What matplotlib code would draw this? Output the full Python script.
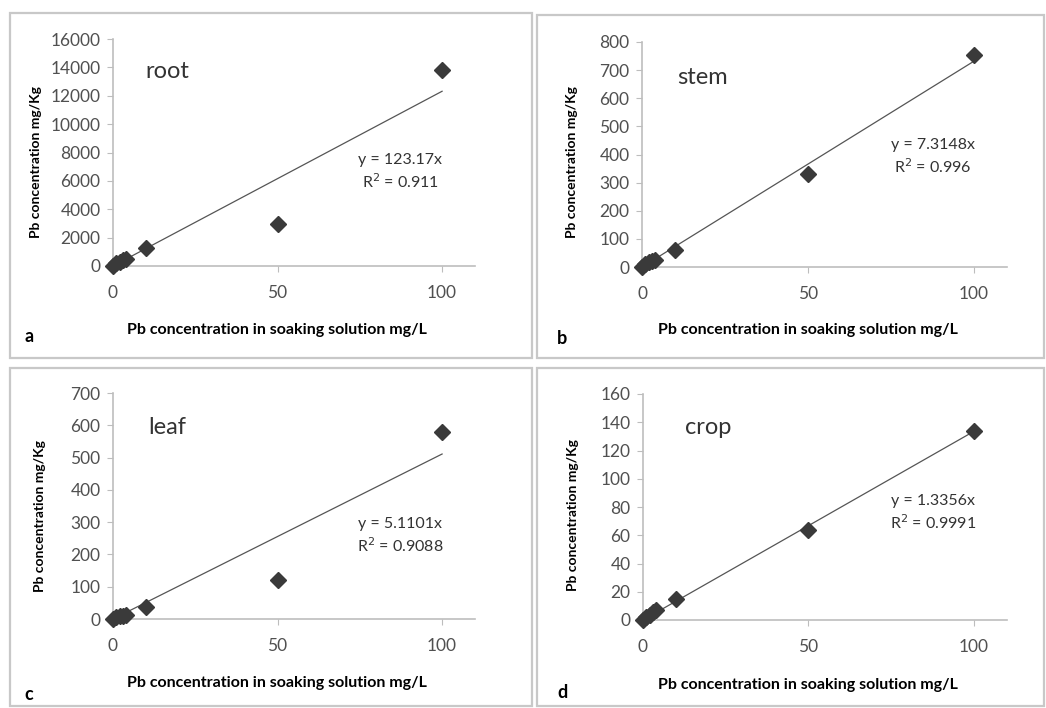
import matplotlib.pyplot as plt
from matplotlib.patches import Rectangle

plt.rcParams['font.family'] = ['Lato', 'DejaVu Sans']

# data
conc = [0, 1, 2, 3, 4, 10, 50, 100]
root = [0, 180, 300, 420, 520, 1280, 2950, 13850]
stem = [0, 10, 18, 22, 24, 60, 332, 755]
leaf = [0, 5, 8, 10, 13, 38, 120, 580]
crop = [0, 2, 3.5, 5.5, 7, 15, 64, 134]

parts = ['root', 'stem', 'leaf', 'crop']
letters = ['a', 'b', 'c', 'd']
slopes = [123.17, 7.3148, 5.1101, 1.3356]
r2 = ['0.911', '0.996', '0.9088', '0.9991']
ymax = [16000, 800, 700, 160]
ystep = [2000, 100, 100, 20]
series = [root, stem, leaf, crop]

W, H = 1046, 708
# pixel boxes: axes (left, right, top, bottom), frame (left, right, top, bottom)
axbox = [(113, 475, 39, 266), (642, 1007, 42, 267),
         (113, 475, 393, 619), (643, 1007, 394, 620)]
frames = [(10, 532, 13, 358), (537, 1044, 15, 358),
          (10, 532, 368, 706), (537, 1044, 368, 706)]
# text positions in pixels
name_pos = [(145, 71), (677, 77), (148, 428), (685, 427)]
eq_pos = [(400, 172), (933, 157), (400, 536), (933, 513)]
xlab_pos = [(277, 330), (808, 330), (277, 683), (808, 685)]
ylab_pos = [(36, 162), (572, 162), (40, 516), (573, 515)]
letter_pos = [(29, 337), (562, 338), (29, 695), (562, 692)]

fig = plt.figure(figsize=(W / 100, H / 100), dpi=100)

for i in range(4):
    fl, fr, ft, fb = frames[i]
    fig.patches.append(Rectangle((fl / W, 1 - fb / H), (fr - fl) / W, (fb - ft) / H,
                                 transform=fig.transFigure, fill=False,
                                 edgecolor='#c8c8c8', lw=1.6))

    l, r, t, b = axbox[i]
    ax = fig.add_axes([l / W, 1 - b / H, (r - l) / W, (b - t) / H])
    ax.set_facecolor('none')
    ax.plot([0, 100], [0, slopes[i] * 100], color='#555555', lw=0.9)
    ax.plot(conc, series[i], linestyle='none', marker='D', markersize=8,
            color='#3a3a3a', clip_on=False, zorder=3)
    ax.set_xlim(0, 110)
    ax.set_ylim(0, ymax[i])
    ax.set_xticks([0, 50, 100])
    ax.set_yticks(range(0, ymax[i] + 1, ystep[i]))
    for s in ['top', 'right']:
        ax.spines[s].set_visible(False)
    for s in ['left', 'bottom']:
        ax.spines[s].set_color('#bdbdbd')
        ax.spines[s].set_linewidth(1.2)
    ax.tick_params(axis='y', direction='out', length=4, color='#bdbdbd',
                   labelsize=12.5, labelcolor='#505050', pad=5)
    ax.tick_params(axis='x', direction='out', length=4, color='#bdbdbd',
                   labelsize=12.5, labelcolor='#505050', pad=10)

    fig.text(ylab_pos[i][0] / W, 1 - ylab_pos[i][1] / H, 'Pb concentration mg/Kg',
             fontsize=10, fontweight='bold', rotation=90, ha='center', va='center')
    fig.text(xlab_pos[i][0] / W, 1 - xlab_pos[i][1] / H,
             'Pb concentration in soaking solution mg/L', fontsize=11.5,
             fontweight='bold', ha='center', va='center')
    fig.text(name_pos[i][0] / W, 1 - name_pos[i][1] / H, parts[i],
             fontsize=17, color='#333333', ha='left', va='center')
    fig.text(eq_pos[i][0] / W, 1 - eq_pos[i][1] / H,
             'y = %gx\nR$^2$ = %s' % (slopes[i], r2[i]), fontsize=11.5,
             color='#333333', ha='center', va='center', linespacing=1.3)
    fig.text(letter_pos[i][0] / W, 1 - letter_pos[i][1] / H, letters[i],
             fontsize=13, fontweight='bold', ha='center', va='center')

plt.savefig('out.png', dpi=100)
